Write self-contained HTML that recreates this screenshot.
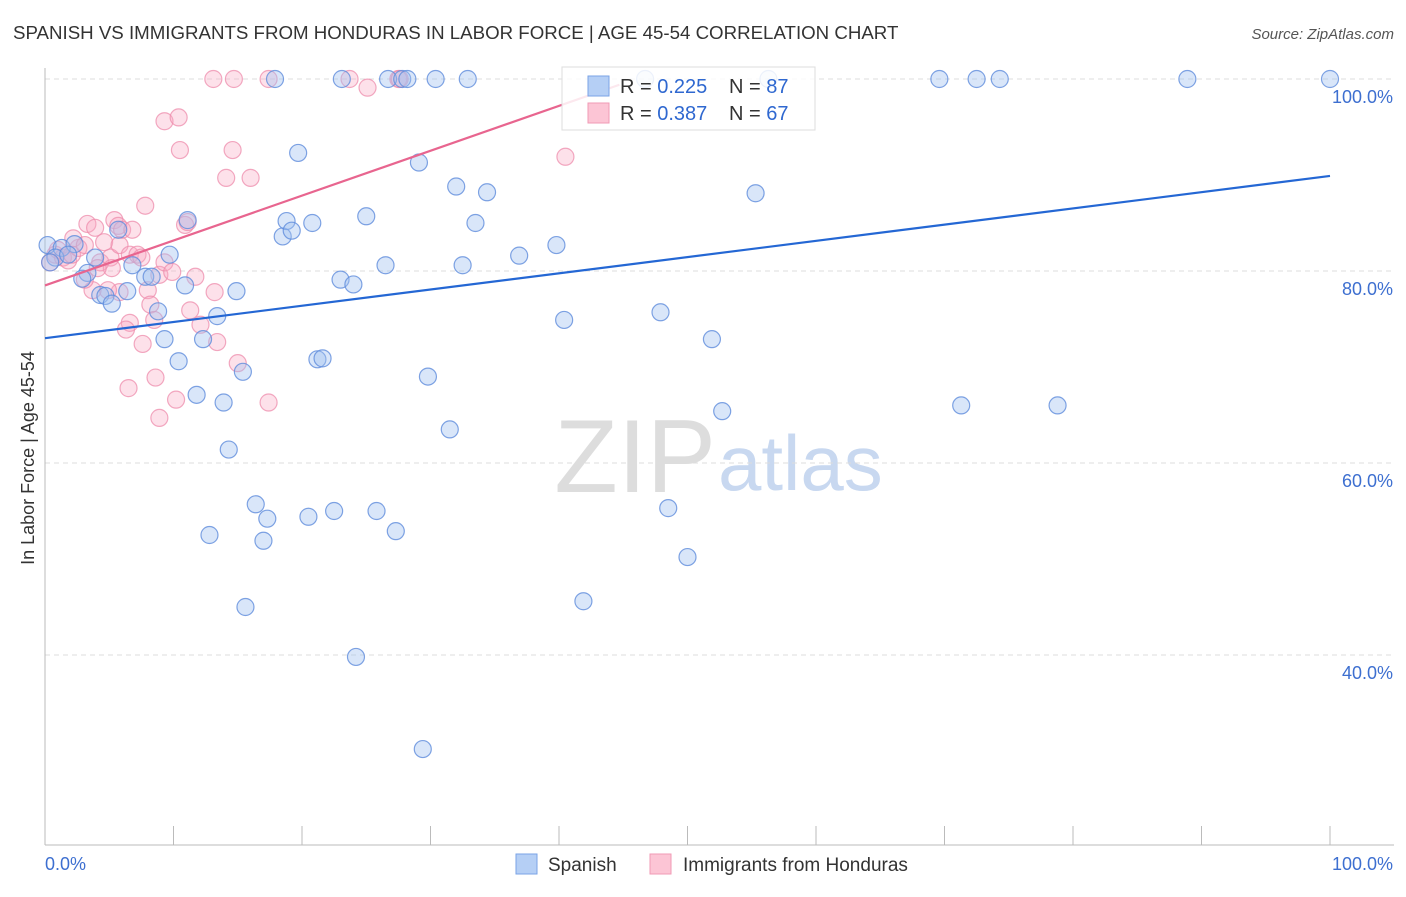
<!DOCTYPE html>
<html><head><meta charset="utf-8"><style>
body{margin:0;background:#fff;font-family:"Liberation Sans",sans-serif;}
svg text{font-family:"Liberation Sans",sans-serif;}
</style></head><body>
<svg id="chart" width="1406" height="892" viewBox="0 0 1406 892">
<text x="13" y="39" font-size="18.7" fill="#333">SPANISH VS IMMIGRANTS FROM HONDURAS IN LABOR FORCE | AGE 45-54 CORRELATION CHART</text>
<text x="1394" y="39" font-size="15" fill="#555" text-anchor="end" font-style="italic">Source: ZipAtlas.com</text>
<text x="716" y="492" font-size="104" fill="#ddd" text-anchor="end" font-family="Liberation Serif">ZIP</text>
<text x="718" y="490" font-size="78" fill="#c8d8f0" >atlas</text>
<text transform="translate(34,458) rotate(-90)" font-size="18" fill="#333" text-anchor="middle">In Labor Force | Age 45-54</text>
<g id="grid"></g><g id="axes"></g><g id="pts"></g><g id="lines"></g>
<g>
<rect x="562" y="67" width="253" height="63" fill="rgba(255,255,255,0.85)" stroke="#ddd"/>
<rect x="588" y="76" width="21" height="20" fill="#b5cff5" stroke="#7aa3e6"/>
<rect x="588" y="103" width="21" height="20" fill="#fcc5d5" stroke="#f09ab5"/>
<text x="620" y="93" font-size="20" fill="#333">R = <tspan fill="#2f68d0">0.225</tspan></text>
<text x="729" y="93" font-size="20" fill="#333">N = <tspan fill="#2f68d0">87</tspan></text>
<text x="620" y="120" font-size="20" fill="#333">R = <tspan fill="#2f68d0">0.387</tspan></text>
<text x="729" y="120" font-size="20" fill="#333">N = <tspan fill="#2f68d0">67</tspan></text>
</g>
<g>
<rect x="516" y="854" width="21" height="20" fill="#b5cff5" stroke="#7aa3e6"/>
<text x="548" y="871" font-size="19" fill="#333">Spanish</text>
<rect x="650" y="854" width="21" height="20" fill="#fcc5d5" stroke="#f09ab5"/>
<text x="683" y="871" font-size="19" fill="#333">Immigrants from Honduras</text>
</g>
</svg>
<script>
const blueX=[0.2,1.3,2.3,3.9,3.3,2.9,4.3,4.7,5.2,6.4,5.7,6.8,7.8,8.3,8.8,9.7,9.3,10.4,10.9,11.1,11.8,12.3,13.4,13.9,14.3,14.9,15.4,12.8,15.6,16.4,17.0,17.3,17.9,18.5,18.8,19.2,19.7,20.8,20.5,21.2,21.6,22.5,23.0,23.1,24.0,24.2,25.0,25.8,26.5,26.7,27.3,27.8,28.2,29.1,29.4,29.8,30.4,31.5,32.0,32.5,32.9,33.5,34.4,36.9,39.8,40.4,41.9,46.7,47.9,48.5,50.0,51.9,52.7,55.3,56.3,69.6,71.3,72.5,74.3,78.8,88.9,100,0.8,1.8,0.4];
const blueY=[82.7,82.4,82.8,81.4,79.8,79.2,77.5,77.4,76.6,77.9,84.3,80.6,79.4,79.4,75.8,81.7,72.9,70.6,78.5,85.3,67.1,72.9,75.3,66.3,61.4,77.9,69.5,52.5,45.0,55.7,51.9,54.2,100,83.6,85.2,84.2,92.3,85.0,54.4,70.8,70.9,55.0,79.1,100,78.6,39.8,85.7,55.0,80.6,100,52.9,100,100,91.3,30.2,69.0,100,63.5,88.8,80.6,100,85.0,88.2,81.6,82.7,74.9,45.6,100,75.7,55.3,50.2,72.9,65.4,88.1,100,100,66.0,100,100,66.0,100,100,81.4,81.7,80.9];
const pinkX=[0.4,0.8,1.0,1.4,1.8,2.1,2.6,2.2,3.1,3.3,3.9,4.3,4.6,5.1,5.2,5.4,5.7,5.8,6.0,6.6,6.8,7.2,7.5,7.8,8.0,8.2,8.5,8.9,9.3,9.3,9.9,10.4,10.5,10.9,11.1,11.3,11.7,12.1,13.2,13.4,13.1,14.1,14.6,14.7,15.0,16.0,17.4,17.4,8.9,10.2,8.6,6.5,6.6,7.6,6.3,5.8,4.9,23.7,25.1,27.5,27.6,40.5,4.1,3.7,3.1];
const pinkY=[80.9,81.7,82.2,81.4,81.1,81.7,82.4,83.4,82.7,84.9,84.5,80.9,83.0,81.4,80.3,85.3,84.7,82.7,84.3,81.7,84.3,81.7,81.4,86.8,78.0,76.5,74.9,79.6,80.9,95.6,79.9,96.0,92.6,84.8,85.1,75.9,79.4,74.4,77.8,72.6,100,89.7,92.6,100,70.4,89.7,100,66.3,64.7,66.6,68.9,67.8,74.6,72.4,73.9,77.8,78.0,100,99.1,100,100,91.9,80.3,78.0,79.1];
const yTicks=[100,80,60,40];
const yTickLabels=["100.0%","80.0%","60.0%","40.0%"];
const xTicks=[0,10,20,30,40,50,60,70,80,90,100];
const blueTrend=[73.0,89.9];
const pinkTrend=[78.5,99.4];
const pinkTrendEnd=44.7;
const NS="http://www.w3.org/2000/svg";
const sx=v=>45+v*12.85, sy=v=>79+(100-v)*9.6;
function mk(tag,attrs,parent){const e=document.createElementNS(NS,tag);for(const k in attrs)e.setAttribute(k,attrs[k]);parent.appendChild(e);return e;}
const grid=document.getElementById('grid'),axes=document.getElementById('axes'),pts=document.getElementById('pts'),lines=document.getElementById('lines');
yTicks.forEach((t,i)=>{
 const l=mk('line',{x1:45,x2:1394,y1:sy(t),y2:sy(t),stroke:'#ddd','stroke-dasharray':'5,4'},grid);
 
 
 const tx=mk('text',{x:1393,y:sy(t)+24,'font-size':18,fill:'#3d6fd0','text-anchor':'end'},axes);
 tx.textContent=yTickLabels[i];
 
 
});
const ax=mk('line',{x1:45,x2:1394,y1:845,y2:845,stroke:'#bbb'},axes);


const ay=mk('line',{x1:45,x2:45,y1:68,y2:845,stroke:'#bbb'},axes);


xTicks.forEach(t=>{
 const l=mk('line',{x1:sx(t),x2:sx(t),y1:826,y2:845,stroke:'#bbb'},axes);
 
 
});
const xl0=mk('text',{x:45,y:870,'font-size':18,fill:'#3d6fd0'},axes);xl0.textContent='0.0%';


const xl1=mk('text',{x:1393,y:870,'font-size':18,fill:'#3d6fd0','text-anchor':'end'},axes);xl1.textContent='100.0%';


pinkX.forEach((x,i)=>{
 const c=mk('circle',{cx:sx(x),cy:sy(pinkY[i]),r:8.5,fill:'rgba(248,170,195,0.35)',stroke:'rgba(238,140,172,0.75)','stroke-width':1.2},pts);
 
 
});
blueX.forEach((x,i)=>{
 const c=mk('circle',{cx:sx(x),cy:sy(blueY[i]),r:8.5,fill:'rgba(160,192,240,0.4)',stroke:'rgba(95,140,220,0.8)','stroke-width':1.2},pts);
 
 
});
const bl=mk('line',{x1:sx(0),y1:sy(blueTrend[0]),x2:sx(100),y2:sy(blueTrend[1]),stroke:'#2467d4','stroke-width':2.2},lines);


const pl=mk('line',{x1:sx(0),y1:sy(pinkTrend[0]),x2:sx(pinkTrendEnd),y2:sy(pinkTrend[1]),stroke:'#e8658f','stroke-width':2.2},lines);


</script>
</body></html>
